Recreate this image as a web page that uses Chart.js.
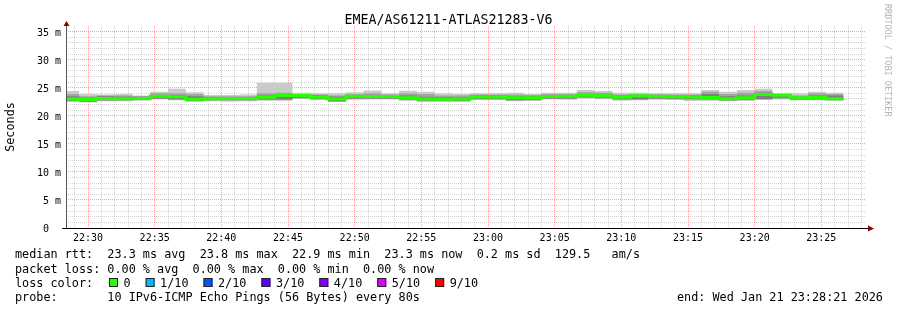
<!DOCTYPE html>
<html><head><meta charset="utf-8">
<style>html,body{margin:0;padding:0;background:#fff;overflow:hidden}canvas{display:block}</style>
<script src="https://cdn.jsdelivr.net/npm/chart.js@4.4.1/dist/chart.umd.min.js"></script>
</head><body>
<canvas id="c" width="897" height="310"></canvas>
<script>
const chartTitle = "EMEA/AS61211-ATLAS21283-V6";
const watermark = "RRDTOOL / TOBI OETIKER";
const firstStep = "22:28:00";
const stepSeconds = 80;
const viewStart = "22:28:21";
const viewEnd = "23:28:21";

// per 80 s step, milliseconds
const median  = [23.0,22.9,23.1,23.05,23.1,23.5,23.4,22.95,23.05,23.1,23.1,23.3,23.6,23.6,23.3,23.0,23.5,23.45,23.45,23.2,23.0,22.95,23.0,23.35,23.35,23.2,23.2,23.45,23.5,23.65,23.55,23.3,23.55,23.5,23.4,23.35,23.25,23.05,23.2,23.8,23.65,23.2,23.25,23.05];
const pingMax = [24.4,23.9,23.8,23.9,23.6,24.3,24.8,24.2,23.7,23.7,23.8,25.9,25.9,24.1,24.0,24.0,24.2,24.5,24.0,24.45,24.3,24.0,23.9,24.0,24.0,24.1,23.9,24.1,24.1,24.6,24.4,24.1,24.1,24.0,24.0,24.0,24.6,24.3,24.6,24.8,24.0,24.0,24.3,24.1];
const pingP9  = [23.9,23.5,23.6,23.6,23.5,24.0,24.0,23.9,23.5,23.5,23.5,24.0,24.1,23.9,23.8,23.6,23.9,24.0,23.8,24.0,23.9,23.6,23.6,23.8,23.8,23.8,23.7,23.9,23.9,24.2,24.1,23.8,23.9,23.85,23.8,23.8,24.3,23.9,24.1,24.4,23.9,23.6,24.0,23.9];
const pingP8  = [23.5,23.2,23.5,23.4,23.4,23.7,23.7,23.5,23.3,23.3,23.35,23.6,23.8,23.75,23.6,23.4,23.7,23.7,23.65,23.6,23.4,23.3,23.3,23.6,23.6,23.5,23.5,23.7,23.7,23.9,23.8,23.55,23.75,23.7,23.6,23.6,23.9,23.5,23.6,24.1,23.8,23.4,23.6,23.6];
const pingP3  = [22.65,22.55,22.75,22.8,22.85,23.1,22.95,22.65,22.8,22.8,22.8,22.9,22.9,23.2,23.0,22.6,23.1,23.1,23.1,22.9,22.7,22.7,22.7,23.0,23.0,22.8,22.85,23.1,23.1,23.3,23.2,22.95,22.95,23.1,23.05,23.0,22.95,22.8,22.9,23.0,23.2,22.9,22.95,22.8];
const pingP2  = [22.6,22.45,22.7,22.7,22.8,23.0,22.85,22.6,22.7,22.7,22.7,22.8,22.8,23.1,22.9,22.55,23.0,23.0,23.0,22.8,22.6,22.6,22.6,22.9,22.9,22.7,22.75,23.0,23.0,23.2,23.1,22.85,22.85,23.0,22.95,22.85,22.85,22.7,22.8,22.9,23.05,22.85,22.85,22.75];
const pingMin = [22.5,22.35,22.6,22.6,22.7,22.9,22.75,22.5,22.6,22.55,22.6,22.7,22.7,23.0,22.8,22.45,22.85,22.9,22.9,22.7,22.5,22.5,22.5,22.8,22.8,22.6,22.65,22.9,22.85,23.05,22.95,22.7,22.75,22.85,22.8,22.65,22.7,22.6,22.65,22.8,22.9,22.75,22.75,22.7];

const yTickLabels = ["0","5 m","10 m","15 m","20 m","25 m","30 m","35 m"];
const xTickLabels = ["22:30","22:35","22:40","22:45","22:50","22:55","23:00","23:05","23:10","23:15","23:20","23:25"];
const legendRows = [
  "median rtt:  23.3 ms avg  23.8 ms max  22.9 ms min  23.3 ms now  0.2 ms sd  129.5   am/s",
  "packet loss: 0.00 % avg  0.00 % max  0.00 % min  0.00 % now",
  "loss color:",
  "probe:       10 IPv6-ICMP Echo Pings (56 Bytes) every 80s"
];
const endLabel = "end: Wed Jan 21 23:28:21 2026";
const lossLabels = ["0","1/10","2/10","3/10","4/10","5/10","9/10"];
const lossColors = ["#26ff00","#00b8ff","#0059ff","#5e00ff","#7e00ff","#dd00ff","#ff0000"];

const MONO = '"DejaVu Sans Mono"';
const majorGrid = 'rgba(255,0,0,0.38)';
const minorGrid = 'rgba(128,128,128,0.34)';

const toSec = s => { const p = s.split(':').map(Number); return p[0]*3600 + p[1]*60 + (p[2]||0); };
const fmt = t => { const h = Math.floor(t/3600)%24, m = Math.floor((t%3600)/60); return String(h).padStart(2,'0')+':'+String(m).padStart(2,'0'); };
const t0 = toSec(firstStep);
const stepPoints = arr => { const pts = arr.map((v,i)=>({x:t0+i*stepSeconds, y:v})); pts.push({x:t0+arr.length*stepSeconds, y:arr[arr.length-1]}); return pts; };
const band = (arr, extra) => Object.assign({data: stepPoints(arr), stepped:'before', pointRadius:0, borderWidth:0, borderColor:'rgba(0,0,0,0)', fill:false}, extra);

const extras = {
  id:'extras',
  afterDraw(chart){
    const ctx = chart.ctx, a = chart.chartArea;
    ctx.save();
    ctx.fillStyle = '#000'; ctx.textAlign='center'; ctx.textBaseline='alphabetic';
    ctx.font = '13.3px '+MONO; ctx.fillText(chartTitle, 448.5, 24);
    ctx.save(); ctx.translate(884.5, 4); ctx.rotate(Math.PI/2);
    ctx.font = '8.5px '+MONO; ctx.fillStyle = '#b4b4b4'; ctx.textAlign='left'; ctx.fillText(watermark, 0, 0); ctx.restore();
    ctx.lineWidth = 1;
    ctx.strokeStyle = '#555';
    ctx.beginPath(); ctx.moveTo(a.left+0.5, a.bottom+0.5); ctx.lineTo(a.left+0.5, a.top-0.5); ctx.stroke();
    ctx.strokeStyle = '#000';
    ctx.beginPath(); ctx.moveTo(a.left-4, a.bottom+0.5); ctx.lineTo(a.right+2, a.bottom+0.5); ctx.stroke();
    ctx.fillStyle = '#8b0000';
    ctx.beginPath(); ctx.moveTo(a.left-2.5, a.top); ctx.lineTo(a.left+3.5, a.top); ctx.lineTo(a.left+0.5, a.top-5); ctx.closePath(); ctx.fill();
    ctx.beginPath(); ctx.moveTo(a.right+2, a.bottom-2.5); ctx.lineTo(a.right+2, a.bottom+3.5); ctx.lineTo(a.right+8, a.bottom+0.5); ctx.closePath(); ctx.fill();
    ctx.font = '11.8px '+MONO; ctx.fillStyle = '#000'; ctx.textAlign='left';
    const base = [258.3, 272.5, 286.7, 300.9];
    legendRows.forEach((r,i)=>ctx.fillText(r, 15, base[i]));
    ctx.fillText(endLabel, 677, base[3]);
    let x = 109;
    lossLabels.forEach((lab,i)=>{
      ctx.fillStyle = lossColors[i]; ctx.fillRect(x, 278, 9, 9);
      ctx.strokeStyle = '#222'; ctx.strokeRect(x+0.5, 278.5, 8, 8);
      ctx.fillStyle = '#000'; const tx = x + 14.5; ctx.fillText(lab, tx, base[2]);
      x = tx + ctx.measureText(lab).width + 15;
    });
    ctx.restore();
  }
};

new Chart(document.getElementById('c'), {
  type:'line',
  data:{ datasets:[
    band(pingMin, {order:4}),
    band(pingMax, {order:4, fill:{target:0}, backgroundColor:'#cacaca'}),
    band(pingP2, {order:3}),
    band(pingP9, {order:3, fill:{target:2}, backgroundColor:'#a4a4a4'}),
    band(pingP3, {order:2}),
    band(pingP8, {order:2, fill:{target:4}, backgroundColor:'#7e7e7e'}),
    {data: stepPoints(median), stepped:'before', pointRadius:0, borderWidth:3, borderColor: lossColors[0], borderCapStyle:'butt', fill:false, order:1}
  ]},
  options:{
    responsive:false, animation:false, devicePixelRatio:1,
    layout:{padding:{top:26, right:31, left:0, bottom:0}},
    plugins:{legend:{display:false}, tooltip:{enabled:false}, title:{display:false}},
    scales:{
      x:{ type:'linear', bounds:'data', min:toSec(viewStart), max:toSec(viewEnd),
        afterBuildTicks:s=>{ const t=[]; for(let v=Math.ceil(s.min/60)*60; v<=s.max; v+=60) t.push({value:v}); s.ticks=t; },
        afterFit:s=>{ s.height = 82; },
        ticks:{ autoSkip:false, maxRotation:0, padding:4, color:'#000', font:{family:'DejaVu Sans Mono', size:10},
          callback:v=> (v%300===0 && xTickLabels.includes(fmt(v))) ? fmt(v) : '' },
        grid:{ drawTicks:false, lineWidth:1, color:c=> (c.tick && c.tick.value%300===0) ? majorGrid : minorGrid },
        border:{ display:false, dash:[1,1] }
      },
      y:{ min:0, max:36,
        afterBuildTicks:s=>{ const t=[]; for(let v=0; v<=36; v++) t.push({value:v}); s.ticks=t; },
        afterFit:s=>{ s.width = 66; },
        ticks:{ autoSkip:false, padding:5, labelOffset:1.5, color:'#000', font:{family:'DejaVu Sans Mono', size:10},
          callback:v=> v%5===0 ? yTickLabels[v/5].padEnd(3) : '' },
        grid:{ drawTicks:false, lineWidth:1, color:c=>{ const v = c.tick ? c.tick.value : 0; if (v>=36) return 'rgba(0,0,0,0)'; return v%5===0 ? majorGrid : minorGrid; } },
        border:{ display:false, dash:[1,1] },
        title:{ display:true, text:'Seconds', color:'#000', font:{family:'DejaVu Sans Mono', size:11.8}, padding:{top:4, bottom:0} }
      }
    }
  },
  plugins:[extras]
});
</script>
</body></html>
